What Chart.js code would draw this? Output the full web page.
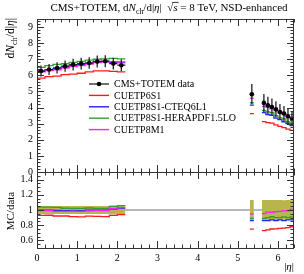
<!DOCTYPE html>
<html lang="en">
<head>
<meta charset="UTF-8">
<title>CMS+TOTEM dNch/d|eta|, 8 TeV</title>
<style>
  body { margin: 0; background: #fff; }
  #wrap { position: relative; width: 304px; height: 274px; }
  #wrap canvas { position: absolute; left: 0; }
  #ratioCanvas { top: 172px; }
  #mainCanvas { top: 0; z-index: 2; }
</style>
<script src="https://cdn.jsdelivr.net/npm/chart.js"></script>
</head>
<body>
<div id="wrap">
  <canvas id="ratioCanvas" width="304" height="102"></canvas>
  <canvas id="mainCanvas" width="304" height="182"></canvas>
</div>
<script>
// |eta| bins (central tracker 0-2.2, T2 5.3-6.4)
const binLo = [0.0, 0.2, 0.4, 0.6, 0.8, 1.0, 1.2, 1.4, 1.6, 1.8, 2.0, 5.3, 5.6, 5.7, 5.8, 5.9, 6.0, 6.1, 6.2, 6.3];
const binHi = [0.2, 0.4, 0.6, 0.8, 1.0, 1.2, 1.4, 1.6, 1.8, 2.0, 2.2, 5.4, 5.7, 5.8, 5.9, 6.0, 6.1, 6.2, 6.3, 6.4];

const dataVal = [6.27, 6.36, 6.46, 6.57, 6.67, 6.73, 6.77, 6.86, 6.88, 6.73, 6.63, 4.83, 4.29, 4.14, 4.04, 3.89, 3.73, 3.63, 3.46, 3.31];
const dataErr = [0.34, 0.34, 0.35, 0.35, 0.36, 0.36, 0.36, 0.37, 0.37, 0.37, 0.37, 0.63, 0.56, 0.54, 0.53, 0.51, 0.49, 0.47, 0.45, 0.43];

const cuetp6s1     = [5.83, 5.92, 5.95, 6.05, 6.08, 6.13, 6.22, 6.28, 6.28, 6.25, 6.22, 3.62, 3.13, 3.06, 3.03, 2.92, 2.83, 2.76, 2.66, 2.58];
const cuetp8s1Cteq = [6.25, 6.35, 6.42, 6.52, 6.60, 6.67, 6.75, 6.85, 6.87, 6.80, 6.80, 4.15, 3.69, 3.56, 3.51, 3.35, 3.25, 3.12, 3.01, 2.88];
const cuetp8s1Hera = [6.50, 6.60, 6.68, 6.72, 6.80, 6.87, 6.95, 7.00, 7.02, 7.05, 7.02, 4.30, 3.82, 3.73, 3.68, 3.50, 3.36, 3.30, 3.11, 3.01];
const cuetp8m1     = [6.22, 6.30, 6.35, 6.45, 6.55, 6.60, 6.70, 6.80, 6.82, 6.85, 6.83, 4.59, 4.08, 4.02, 3.92, 3.81, 3.66, 3.59, 3.43, 3.34];

const xTicks = [0, 1, 2, 3, 4, 5, 6];
const mainYTicks = [0, 1, 2, 3, 4, 5, 6, 7, 8, 9];
const ratioYTicks = [0.6, 0.8, 1, 1.2, 1.4];

const legendNames = ['CMS+TOTEM data', 'CUETP6S1', 'CUETP8S1-CTEQ6L1', 'CUETP8S1-HERAPDF1.5LO', 'CUETP8M1'];
const mcSeries = [cuetp6s1, cuetp8s1Cteq, cuetp8s1Hera, cuetp8m1];
const mcColors = ['#ff1a1a', '#2020ff', '#30a030', '#ff20ff'];

const FONT = '"Liberation Serif", "DejaVu Serif", serif';

// histogram as steps, broken where bins are not contiguous
function steps(vals) {
  const pts = [];
  for (let i = 0; i < vals.length; i++) {
    if (i > 0 && binLo[i] !== binHi[i - 1]) pts.push({ x: (binHi[i - 1] + binLo[i]) / 2, y: null });
    pts.push({ x: binLo[i], y: vals[i] }, { x: binHi[i], y: vals[i] });
  }
  return pts;
}

// text with italics / subscripts / overline
function drawRich(ctx, parts, x, y, size, align) {
  const fontOf = p => (p.it ? 'italic ' : '') + (p.sub ? size * 0.72 : size) + 'px ' + FONT;
  let total = 0;
  parts.forEach(p => { ctx.font = fontOf(p); p.w = ctx.measureText(p.t).width; total += p.w; });
  let cx = align === 'center' ? x - total / 2 : align === 'right' ? x - total : x;
  ctx.textAlign = 'left';
  ctx.textBaseline = 'alphabetic';
  parts.forEach(p => {
    ctx.font = fontOf(p);
    ctx.fillText(p.t, cx, p.sub ? y + size * 0.25 : y);
    if (p.over) {
      ctx.beginPath();
      ctx.lineWidth = 0.8;
      ctx.moveTo(cx - 1, y - size * 0.78);
      ctx.lineTo(cx + p.w + 1, y - size * 0.78);
      ctx.stroke();
    }
    cx += p.w;
  });
}

// Rivet-like frame with inward ticks on all four sides
const framePlugin = {
  id: 'frame',
  afterDraw(chart, args, opts) {
    const { ctx, chartArea: a, scales } = chart;
    const xs = scales.x, ys = scales.y;
    ctx.save();
    ctx.strokeStyle = '#333';
    ctx.lineWidth = 1;
    ctx.strokeRect(a.left + 0.5, a.top + 0.5, a.right - a.left - 1, a.bottom - a.top);
    const tick = (x1, y1, x2, y2) => { ctx.moveTo(x1, y1); ctx.lineTo(x2, y2); };
    ctx.beginPath();
    const xStep = 0.2;
    for (let n = Math.ceil(xs.min / xStep - 1e-6); n * xStep <= xs.max + 1e-6; n++) {
      const v = n * xStep;
      const major = Math.abs(v - Math.round(v)) < 1e-6;
      const len = major ? 7 : 3.5;
      const px = Math.round(xs.getPixelForValue(v)) + 0.5;
      tick(px, a.top, px, a.top + len);
      tick(px, a.bottom, px, a.bottom - len);
    }
    const yStep = opts.minorStep;
    for (let n = Math.ceil(ys.min / yStep - 1e-6); n * yStep <= ys.max + 1e-6; n++) {
      const v = n * yStep;
      const major = opts.yTicks.some(t => Math.abs(t - v) < 1e-6);
      const len = major ? 7 : 3.5;
      const py = Math.round(ys.getPixelForValue(v)) + 0.5;
      tick(a.left, py, a.left + len, py);
      tick(a.right, py, a.right - len, py);
    }
    ctx.stroke();

    ctx.fillStyle = '#000';
    ctx.font = '10px ' + FONT;
    ctx.textAlign = 'right';
    ctx.textBaseline = 'middle';
    opts.yTicks.forEach(v => ctx.fillText(String(v), a.left - 4, ys.getPixelForValue(v)));
    if (opts.xLabels) {
      ctx.textAlign = 'center';
      ctx.textBaseline = 'top';
      xTicks.forEach(v => ctx.fillText(String(v), xs.getPixelForValue(v), a.bottom + 5));
    }
    ctx.restore();
  }
};

// error bars for the data points, drawn just before the markers
const errPlugin = {
  id: 'errbars',
  beforeDatasetDraw(chart, args) {
    if (!chart.data.datasets[args.index].isData) return;
    const { ctx, scales } = chart;
    ctx.save();
    ctx.strokeStyle = '#222';
    ctx.lineWidth = 1.3;
    ctx.beginPath();
    for (let i = 0; i < dataVal.length; i++) {
      const px = scales.x.getPixelForValue((binLo[i] + binHi[i]) / 2);
      ctx.moveTo(px, scales.y.getPixelForValue(dataVal[i] - dataErr[i]));
      ctx.lineTo(px, scales.y.getPixelForValue(dataVal[i] + dataErr[i]));
      const py = scales.y.getPixelForValue(dataVal[i]);
      ctx.moveTo(scales.x.getPixelForValue(binLo[i]), py);
      ctx.lineTo(scales.x.getPixelForValue(binHi[i]), py);
    }
    ctx.stroke();
    ctx.restore();
  }
};

const labelsMain = {
  id: 'labelsMain',
  afterDraw(chart) {
    const ctx = chart.ctx;
    ctx.save();
    ctx.fillStyle = '#000';
    ctx.strokeStyle = '#000';
    drawRich(ctx, [
      { t: 'CMS+TOTEM, d' }, { t: 'N', it: true }, { t: 'ch', sub: true }, { t: '/d|' }, { t: 'η', it: true },
      { t: '|  √' }, { t: 's', it: true, over: true }, { t: ' = 8 TeV, NSD-enhanced' }
    ], 169, 11, 11, 'center');

    ctx.translate(14, 18);
    ctx.rotate(-Math.PI / 2);
    drawRich(ctx, [{ t: 'd' }, { t: 'N', it: true }, { t: 'ch', sub: true }, { t: '/d|' }, { t: 'η', it: true }, { t: '|' }], 0, 0, 11.5, 'right');
    ctx.restore();

    // legend
    ctx.save();
    const x0 = 89, x1 = 109, tx = 114;
    legendNames.forEach((name, i) => {
      const y = 84 + i * 11.4;
      ctx.beginPath();
      ctx.lineWidth = i === 0 ? 1.3 : 1.4;
      ctx.strokeStyle = i === 0 ? '#222' : mcColors[i - 1];
      ctx.moveTo(x0, y);
      ctx.lineTo(x1, y);
      ctx.stroke();
      if (i === 0) {
        ctx.beginPath();
        ctx.fillStyle = '#000';
        ctx.arc((x0 + x1) / 2, y, 2.3, 0, Math.PI * 2);
        ctx.fill();
      }
      ctx.fillStyle = '#000';
      ctx.font = '10px ' + FONT;
      ctx.textAlign = 'left';
      ctx.textBaseline = 'middle';
      ctx.fillText(name, tx, y + 0.5);
    });
    ctx.restore();
  }
};

const labelsRatio = {
  id: 'labelsRatio',
  beforeDatasetsDraw(chart) {
    const { ctx, chartArea: a, scales } = chart;
    const py = scales.y.getPixelForValue(1);
    ctx.save();
    ctx.strokeStyle = '#a0a0a0';
    ctx.lineWidth = 1.5;
    ctx.beginPath();
    ctx.moveTo(a.left, py);
    ctx.lineTo(a.right, py);
    ctx.stroke();
    ctx.restore();
  },
  afterDraw(chart) {
    const { ctx, chartArea: a } = chart;
    ctx.save();
    ctx.fillStyle = '#000';
    ctx.translate(14, 39);
    ctx.rotate(-Math.PI / 2);
    drawRich(ctx, [{ t: 'MC/data' }], 0, 0, 11, 'center');
    ctx.restore();
    ctx.save();
    ctx.fillStyle = '#000';
    drawRich(ctx, [{ t: '|' }, { t: 'η', it: true }, { t: '|' }], a.right, 98, 11, 'right');
    ctx.restore();
  }
};

const xScale = { type: 'linear', min: 0, max: 6.4, display: false };

// Chart.js paints the first dataset last (on top), so the order is reversed here
const mcMain = mcSeries.map((vals, i) => ({
  label: legendNames[i + 1],
  data: steps(vals),
  borderColor: mcColors[i],
  borderWidth: 1.3,
  pointRadius: 0,
  fill: false,
  spanGaps: false
})).reverse();

const mainDatasets = [{
  label: legendNames[0],
  isData: true,
  data: dataVal.map((v, i) => ({ x: (binLo[i] + binHi[i]) / 2, y: v })),
  showLine: false,
  pointRadius: 2.3,
  pointBackgroundColor: '#000',
  pointBorderWidth: 0
}].concat(mcMain);

new Chart(document.getElementById('mainCanvas'), {
  type: 'line',
  data: { datasets: mainDatasets },
  options: {
    responsive: false,
    animation: false,
    layout: { padding: { left: 37, right: 10, top: 19, bottom: 10 } },
    scales: { x: xScale, y: { type: 'linear', min: 0, max: 9.5, display: false } },
    plugins: {
      legend: { display: false },
      tooltip: { enabled: false },
      frame: { yTicks: mainYTicks, minorStep: 0.2, xLabels: false }
    }
  },
  plugins: [errPlugin, framePlugin, labelsMain]
});

const ratioDatasets = mcSeries.map((vals, i) => ({
  label: legendNames[i + 1],
  data: steps(vals.map((v, j) => v / dataVal[j])),
  borderColor: mcColors[i],
  borderWidth: 1.3,
  pointRadius: 0,
  fill: false,
  spanGaps: false
})).reverse();
ratioDatasets.push(
  {
    label: 'band up',
    data: steps(dataVal.map((v, i) => 1 + dataErr[i] / v)),
    borderWidth: 0,
    pointRadius: 0,
    backgroundColor: 'rgb(184,180,78)',
    fill: '+1',
    spanGaps: false
  },
  {
    label: 'band down',
    data: steps(dataVal.map((v, i) => 1 - dataErr[i] / v)),
    borderWidth: 0,
    pointRadius: 0,
    fill: false,
    spanGaps: false
  }
);

new Chart(document.getElementById('ratioCanvas'), {
  type: 'line',
  data: { datasets: ratioDatasets },
  options: {
    responsive: false,
    animation: false,
    layout: { padding: { left: 37, right: 10, top: 0, bottom: 26 } },
    scales: { x: xScale, y: { type: 'linear', min: 0.5, max: 1.5, display: false } },
    plugins: {
      legend: { display: false },
      tooltip: { enabled: false },
      filler: { propagate: false },
      frame: { yTicks: ratioYTicks, minorStep: 0.05, xLabels: true }
    }
  },
  plugins: [labelsRatio, framePlugin]
});
</script>
</body>
</html>
